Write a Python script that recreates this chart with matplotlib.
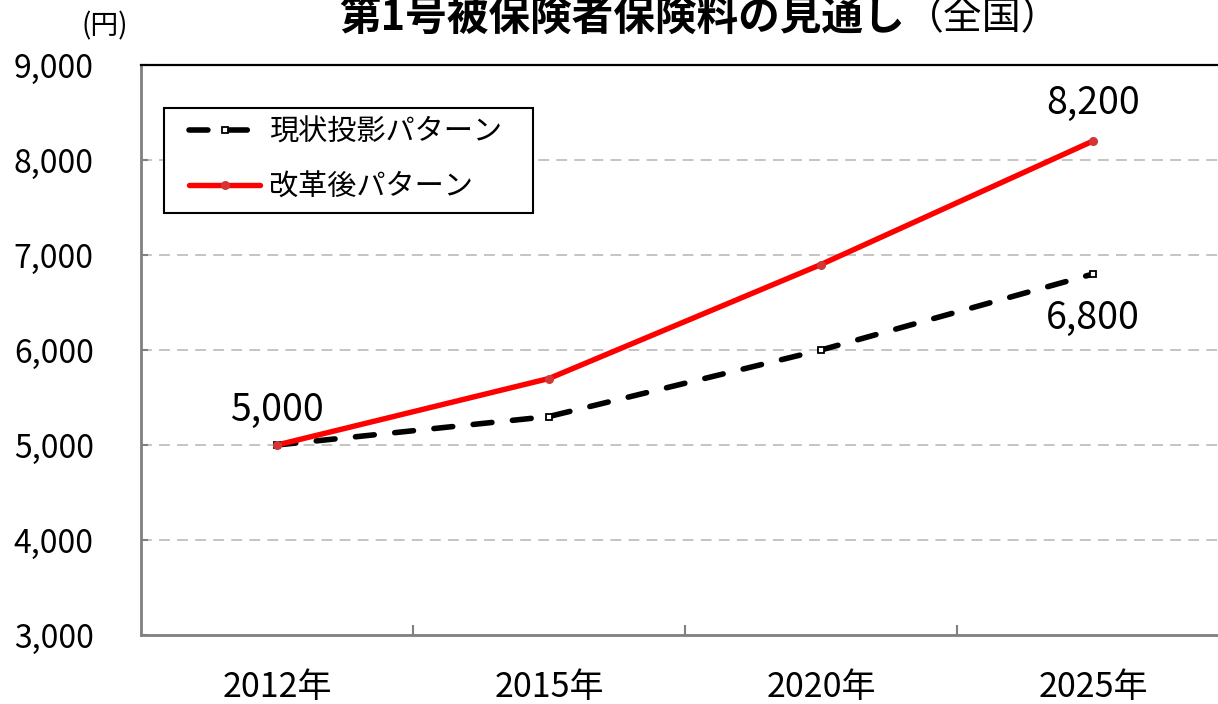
import matplotlib
matplotlib.use("Agg")
import matplotlib.pyplot as plt
from matplotlib.lines import Line2D
from matplotlib.patches import Rectangle

plt.rcParams['font.family'] = ['Noto Sans CJK JP', 'DejaVu Sans']

# Data
years = ["2012年", "2015年", "2020年", "2025年"]
current_pattern = [5000, 5300, 6000, 6800]
reform_pattern = [5000, 5700, 6900, 8200]
series_names = ["現状投影パターン", "改革後パターン"]
y_ticks = [3000, 4000, 5000, 6000, 7000, 8000, 9000]

W, H = 1218, 704
fig = plt.figure(figsize=(W / 100, H / 100), dpi=100)
fig.patch.set_facecolor("white")

left_px, right_px, top_px, bottom_px = 141, 1229, 65, 635
ax = fig.add_axes([left_px / W, 1 - bottom_px / H,
                   (right_px - left_px) / W, (bottom_px - top_px) / H])

x = list(range(len(years)))

# Gridlines
for v in y_ticks[1:-1]:
    ax.axhline(v, color="#bfbfbf", lw=1.3, dashes=(6, 4), zorder=1)

# Series
black_style = dict(color="black", lw=4.0, dashes=(3.4, 3.7),
                   dash_capstyle="round")
red_style = dict(color="#ff0000", lw=3.9, solid_capstyle="round")
black_marker = dict(marker="s", ms=5, mfc="white", mec="black", mew=1.3)
red_marker = dict(marker="o", ms=5.5, mfc="#e03030", mec="#c04040", mew=1.0)

ax.plot(x, current_pattern, zorder=3, **black_style)
ax.plot(x, current_pattern, ls="none", zorder=4, **black_marker)
ax.plot(x, reform_pattern, zorder=3, **red_style)
ax.plot(x, reform_pattern, ls="none", zorder=4, **red_marker)

# Axes styling
ax.set_xlim(-0.5, len(years) - 0.5)
ax.set_ylim(y_ticks[0], y_ticks[-1])
ax.set_yticks(y_ticks)
ax.set_yticklabels([f"{v:,}" for v in y_ticks])
ax.set_xticks(x)
ax.set_xticklabels(years)
ax.set_xticks([i + 0.5 for i in x[:-1]], minor=True)
ax.tick_params(axis="x", which="major", length=0, pad=25, labelsize=24.5)
ax.tick_params(axis="x", which="minor", direction="in", length=7,
               width=1.5, color="#808080")
ax.tick_params(axis="y", direction="in", length=5, width=1.5,
               color="#808080", pad=34, labelsize=23)

for side in ("left", "bottom"):
    ax.spines[side].set_color("#808080")
    ax.spines[side].set_linewidth(2)
ax.spines["top"].set_color("black")
ax.spines["top"].set_linewidth(1.6)
ax.spines["right"].set_visible(False)

# Value labels
ax.annotate(f"{current_pattern[0]:,}", (x[0], current_pattern[0]),
            xytext=(0, 25), textcoords="offset points", ha="center",
            va="center", fontsize=27)
ax.annotate(f"{reform_pattern[-1]:,}", (x[-1], reform_pattern[-1]),
            xytext=(0, 27), textcoords="offset points", ha="center",
            va="center", fontsize=27)
ax.annotate(f"{current_pattern[-1]:,}", (x[-1], current_pattern[-1]),
            xytext=(0, -32), textcoords="offset points", ha="center",
            va="center", fontsize=27)

# Legend (entries plus a separate box frame)
handles = [
    Line2D([], [], **black_style, **black_marker),
    Line2D([], [], **red_style, **red_marker),
]
leg = fig.legend(handles, series_names, loc="center left",
                 bbox_to_anchor=(189 / W, 1 - 160 / H), frameon=False,
                 fontsize=21, handlelength=2.45, handletextpad=0.3,
                 borderpad=0, labelspacing=0.85, borderaxespad=0)
fig.add_artist(Rectangle((164 / W, 1 - 213 / H), (533 - 164) / W,
                         (213 - 108) / H, transform=fig.transFigure,
                         facecolor="white", edgecolor="black", lw=1.5,
                         zorder=leg.get_zorder() - 0.1))

# Unit label and title
fig.text(105 / W, 1 - 26 / H, "(円)", ha="center", va="center", fontsize=20)
title_split = 905 / W
fig.text(title_split, 1 - 18 / H, "第1号被保険者保険料の見通し", ha="right",
         va="center", fontsize=30, fontweight="bold")
fig.text(title_split, 1 - 18 / H, "（全国）", ha="left", va="center",
         fontsize=28)

fig.savefig("out.png", dpi=100)
